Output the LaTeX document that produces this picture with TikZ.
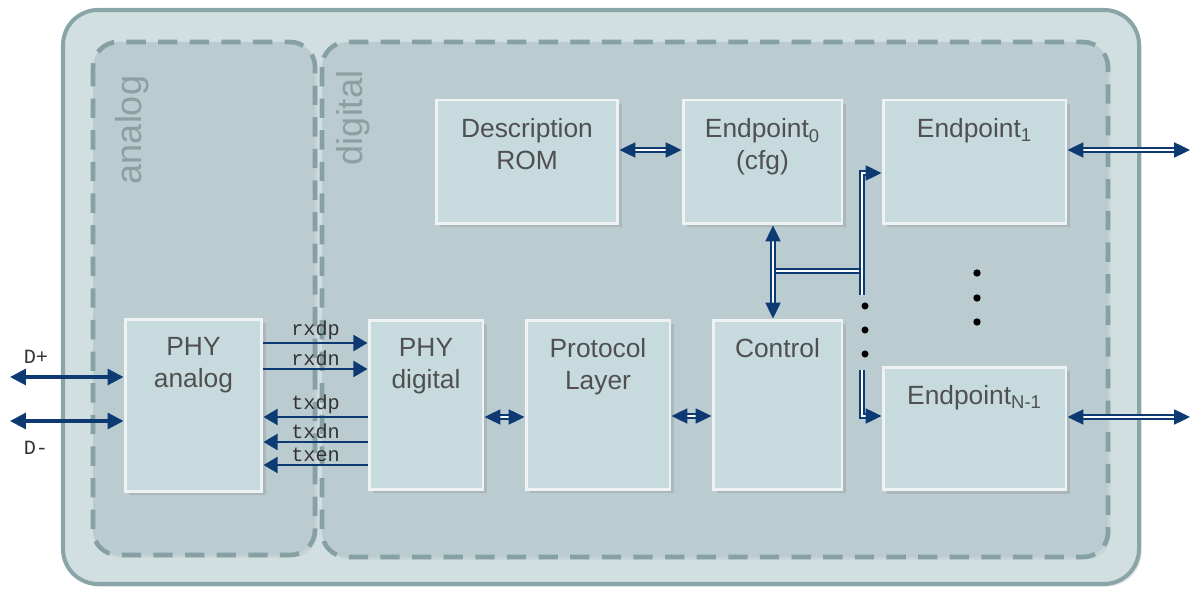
\documentclass[tikz,border=0pt]{standalone}
\usepackage{fontspec}
\setmainfont{Liberation Sans}
\setmonofont{Liberation Mono}
\usetikzlibrary{arrows.meta, positioning, shadows}

\definecolor{framefill}{HTML}{D2DFE1}
\definecolor{framedraw}{HTML}{8AA5A8}
\definecolor{zonefill}{HTML}{BACCD0}
\definecolor{zonedraw}{HTML}{86A0A4}
\definecolor{blockfill}{HTML}{C7DBDE}
\definecolor{blockdraw}{HTML}{EEF2F2}
\definecolor{wire}{HTML}{0E3A74}
\definecolor{textgray}{HTML}{505050}
\definecolor{zonetext}{HTML}{8E9EA1}

\begin{document}
\begin{tikzpicture}[
    x=0.02cm, y=-0.02cm,
    frame/.style={draw=framedraw, fill=framefill, line width=2.3pt, rounded corners=0.7cm, drop shadow={shadow xshift=1.5pt, shadow yshift=-1.5pt, opacity=0.2}},
    zone/.style={draw=zonedraw, fill=zonefill, line width=2.6pt, dash pattern=on 11pt off 7pt, rounded corners=0.5cm, drop shadow={shadow xshift=1.5pt, shadow yshift=-1.5pt, opacity=0.12}},
    zonelabel/.style={text=zonetext, font=\fontsize{20.5}{24}\selectfont, rotate=90},
    block/.style={rectangle, draw=blockdraw, fill=blockfill, line width=1.7pt, drop shadow={shadow xshift=2pt, shadow yshift=-2pt, opacity=0.25}},
    blocktext/.style={align=center, text=textgray, font=\fontsize{15}{18}\selectfont},
    signame/.style={font=\ttfamily\fontsize{11.5}{12}\selectfont, text=black!80, inner sep=1pt},
    sig/.style={draw=wire, line width=1.6pt, -{Triangle[length=8pt, width=9pt]}},
    pin/.style={draw=wire, line width=1.8pt, {Triangle[length=9pt, width=9pt]}-{Triangle[length=9pt, width=9pt]}},
    bus/.style={draw=wire, line width=1.1pt, double=white, double distance=1.2pt},
    busto/.style={bus, -{Triangle[length=9pt, width=8.5pt]}},
    busboth/.style={bus, {Triangle[length=9pt, width=8.5pt]}-{Triangle[length=9pt, width=8.5pt]}}
]
\useasboundingbox (0,0) rectangle (1192,590);

% Chip outline and the two domains
\draw[frame] (63,10) rectangle (1139,584);
\draw[zone] (93,42) rectangle (315,555);
\draw[zone] (322,42) rectangle (1108,557);
\node[zonelabel] (analoglbl) at (132,130) {analog};
\node[zonelabel] (digitallbl) at (353,118) {digital};

% Blocks
\node[block, minimum width=2.74cm, minimum height=3.46cm] (phya) at (193.5,405.5) {};
\node[block, minimum width=2.28cm, minimum height=3.4cm] (phyd) at (426,405) {};
\node[block, minimum width=2.88cm, minimum height=3.4cm] (proto) at (598,405) {};
\node[block, minimum width=2.58cm, minimum height=3.4cm] (ctl) at (777.5,405) {};
\node[block, minimum width=3.64cm, minimum height=2.48cm] (rom) at (527,162) {};
\node[block, minimum width=3.18cm, minimum height=2.48cm] (ep0) at (762.5,162) {};
\node[block, minimum width=3.66cm, minimum height=2.48cm] (ep1) at (974.5,162) {};
\node[block, minimum width=3.66cm, minimum height=2.46cm] (epn) at (974.5,428.5) {};

% Block texts
\node[blocktext, below=8pt of phya.north] (phyatext) {PHY\\analog};
\node[blocktext, below=8pt of phyd.north] (phydtext) {PHY\\digital};
\node[blocktext, below=8pt of proto.north] (prototext) {Protocol\\Layer};
\node[blocktext, below=8pt of ctl.north] (ctltext) {Control};
\node[blocktext, below=8pt of rom.north] (romtext) {Description\\ROM};
\node[blocktext, below=8pt of ep0.north] (ep0text) {Endpoint\textsubscript{0}\\(cfg)};
\node[blocktext, below=8pt of ep1.north] (ep1text) {Endpoint\textsubscript{1}};
\node[blocktext, below=8pt of epn.north] (epntext) {Endpoint\textsubscript{N-1}};

% USB pins
\coordinate (dp) at (10,377);
\coordinate (dm) at (10,421);
\draw[pin] (dp) -- (phya.west |- dp);
\draw[pin] (dm) -- (phya.west |- dm);
\node[signame] (dplbl) at (36,357) {D+};
\node[signame] (dmlbl) at (36,448) {D-};

% Analog / digital signals
\draw[sig] (phya.east |- 0,343) -- node[signame, above] (rxdplbl) {rxdp} (phyd.west |- 0,343);
\draw[sig] (phya.east |- 0,369) -- node[signame, above] (rxdnlbl) {rxdn} (phyd.west |- 0,369);
\draw[sig] (phyd.west |- 0,417) -- node[signame, above] (txdplbl) {txdp} (phya.east |- 0,417);
\draw[sig] (phyd.west |- 0,442) -- node[signame, above] (txdnlbl) {txdn} (phya.east |- 0,442);
\draw[sig] (phyd.west |- 0,465) -- node[signame, above] (txenlbl) {txen} (phya.east |- 0,465);

% Internal buses
\draw[busboth] (phyd.east |- 0,417) -- (proto.west |- 0,417);
\draw[busboth] (proto.east |- 0,416) -- (ctl.west |- 0,416);
\draw[busboth] (rom.east |- 0,150) -- (ep0.west |- 0,150);

\coordinate (cfgbus) at (773,271);
\coordinate (epbus) at (862,271);
\coordinate (bustop) at (862,295);
\coordinate (busbot) at (862,370);
\draw[bus] (cfgbus) -- (epbus);
\draw[busboth] (cfgbus |- ep0.south) -- (cfgbus |- ctl.north);
\draw[busto] (bustop) |- (ep1.west |- 0,173);
\draw[busto] (busbot) |- (epn.west |- 0,416);
\foreach \y in {306,330,354}
    \fill (865,\y) circle[radius=2pt];
\foreach \y in {273,298,322}
    \fill (977,\y) circle[radius=2.1pt];

% External endpoint links
\coordinate (ep1out) at (1190,150);
\coordinate (epnout) at (1190,417);
\draw[busboth] (ep1.east |- ep1out) -- (ep1out);
\draw[busboth] (epn.east |- epnout) -- (epnout);

\end{tikzpicture}
\end{document}
